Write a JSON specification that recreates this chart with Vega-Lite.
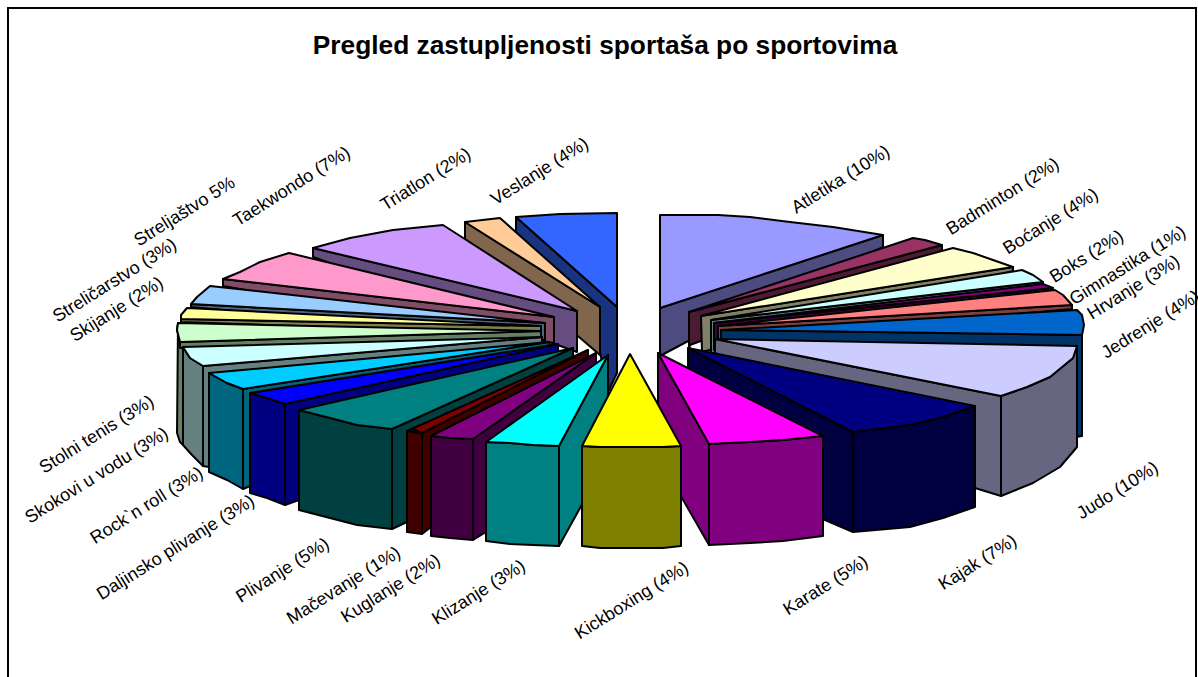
{"$schema":"https://vega.github.io/schema/vega-lite/v6.json","width":1198,"height":677,"autosize":"none","padding":0,"background":"white","view":{"stroke":null},
"title":{"text":"Pregled zastupljenosti sportaša po sportovima","font":"Liberation Sans","fontSize":26.3,"fontWeight":"bold","color":"black","anchor":"middle","dx":6,"dy":63},
"projection":{"type":"identity","scale":1,"translate":[0,0]},
"layer":[
{"data":{"values":[{"type":"Feature","properties":{"part":"frame"},"geometry":{"type":"LineString","coordinates":[[8,677],[8,8],[1196,8],[1196,677]]}}]},
"mark":{"type":"geoshape","filled":false,"stroke":"black","strokeWidth":2},"encoding":{}},
{"data":{"values":[
{"type":"Feature","properties":{"part":"Atletika side"},"geometry":{"type":"Polygon","coordinates":[[[660,308],[883,235],[883,247],[690,340],[660,356],[660,308]]]}},
{"type":"Feature","properties":{"part":"Atletika top"},"geometry":{"type":"Polygon","coordinates":[[[660,308],[660,215],[718,215],[750,217],[790,222],[833,227],[883,235],[660,308]]]}},
{"type":"Feature","properties":{"part":"Badminton side"},"geometry":{"type":"Polygon","coordinates":[[[689,312],[942,245],[942,251],[690,345],[689,350],[689,312]]]}},
{"type":"Feature","properties":{"part":"Badminton top"},"geometry":{"type":"Polygon","coordinates":[[[689,312],[913,238],[925,240],[942,245],[689,312]]]}},
{"type":"Feature","properties":{"part":"Boćanje side"},"geometry":{"type":"Polygon","coordinates":[[[701,316],[1013,267],[1013,271],[702,352],[701,316]]]}},
{"type":"Feature","properties":{"part":"Boćanje top"},"geometry":{"type":"Polygon","coordinates":[[[701,316],[953,248],[973,253],[993,260],[1013,267],[701,316]]]}},
{"type":"Feature","properties":{"part":"Boks side"},"geometry":{"type":"Polygon","coordinates":[[[711,320],[1043,282],[1043,285],[711,355],[711,320]]]}},
{"type":"Feature","properties":{"part":"Boks top"},"geometry":{"type":"Polygon","coordinates":[[[711,320],[1022,270],[1033,275],[1043,282],[711,320]]]}},
{"type":"Feature","properties":{"part":"Gimnastika side"},"geometry":{"type":"Polygon","coordinates":[[[714,323],[1053,288],[1053,290],[714,350],[714,323]]]}},
{"type":"Feature","properties":{"part":"Gimnastika top"},"geometry":{"type":"Polygon","coordinates":[[[714,323],[1043,284],[1053,288],[714,323]]]}},
{"type":"Feature","properties":{"part":"Hrvanje side"},"geometry":{"type":"Polygon","coordinates":[[[718,326],[1072,305],[1072,309],[718,340],[718,326]]]}},
{"type":"Feature","properties":{"part":"Hrvanje top"},"geometry":{"type":"Polygon","coordinates":[[[718,326],[1055,290],[1063,295],[1072,305],[718,326]]]}},
{"type":"Feature","properties":{"part":"Jedrenje side"},"geometry":{"type":"Polygon","coordinates":[[[721,330],[1082,335],[1082,436],[1076,437],[721,350],[721,330]]]}},
{"type":"Feature","properties":{"part":"Jedrenje top"},"geometry":{"type":"Polygon","coordinates":[[[721,330],[1077,310],[1082,315],[1084,325],[1082,335],[721,330]]]}},
{"type":"Feature","properties":{"part":"Veslanje side"},"geometry":{"type":"Polygon","coordinates":[[[617,307],[516,217],[516,232],[600,352],[608,392],[617,373],[617,307]]]}},
{"type":"Feature","properties":{"part":"Veslanje top"},"geometry":{"type":"Polygon","coordinates":[[[617,307],[617,213],[560,214],[516,217],[617,307]]]}},
{"type":"Feature","properties":{"part":"Triatlon side"},"geometry":{"type":"Polygon","coordinates":[[[600,307],[465,222],[465,239],[600,355],[600,307]]]}},
{"type":"Feature","properties":{"part":"Triatlon top"},"geometry":{"type":"Polygon","coordinates":[[[600,307],[500,218],[465,222],[600,307]]]}},
{"type":"Feature","properties":{"part":"Taekwondo side"},"geometry":{"type":"Polygon","coordinates":[[[577,311],[313,248],[313,257],[577,352],[577,311]]]}},
{"type":"Feature","properties":{"part":"Taekwondo top"},"geometry":{"type":"Polygon","coordinates":[[[577,311],[443,225],[393,230],[350,238],[313,248],[577,311]]]}},
{"type":"Feature","properties":{"part":"Streljaštvo side"},"geometry":{"type":"Polygon","coordinates":[[[554,317],[223,279],[223,286],[554,343],[554,317]]]}},
{"type":"Feature","properties":{"part":"Streljaštvo top"},"geometry":{"type":"Polygon","coordinates":[[[554,317],[289,253],[260,262],[240,272],[223,279],[554,317]]]}},
{"type":"Feature","properties":{"part":"Streličarstvo side"},"geometry":{"type":"Polygon","coordinates":[[[545,323],[191,304],[191,307],[545,340],[545,323]]]}},
{"type":"Feature","properties":{"part":"Streličarstvo top"},"geometry":{"type":"Polygon","coordinates":[[[545,323],[210,286],[197,297],[191,304],[545,323]]]}},
{"type":"Feature","properties":{"part":"Skijanje side"},"geometry":{"type":"Polygon","coordinates":[[[541,326],[181,319],[181,322],[541,334],[541,326]]]}},
{"type":"Feature","properties":{"part":"Skijanje top"},"geometry":{"type":"Polygon","coordinates":[[[541,326],[187,308],[181,315],[181,319],[541,326]]]}},
{"type":"Feature","properties":{"part":"Stolni tenis side"},"geometry":{"type":"Polygon","coordinates":[[[178,323],[177,330],[180,342],[183,345],[183,445],[180,442],[177,433],[178,323]]]}},
{"type":"Feature","properties":{"part":"Stolni tenis side"},"geometry":{"type":"Polygon","coordinates":[[[541,331],[180,342],[180,348],[541,345],[541,331]]]}},
{"type":"Feature","properties":{"part":"Stolni tenis top"},"geometry":{"type":"Polygon","coordinates":[[[541,331],[178,323],[177,330],[180,342],[541,331]]]}},
{"type":"Feature","properties":{"part":"Skokovi side"},"geometry":{"type":"Polygon","coordinates":[[[542,337],[203,366],[203,466],[209,467],[542,350],[542,337]]]}},
{"type":"Feature","properties":{"part":"Skokovi side"},"geometry":{"type":"Polygon","coordinates":[[[183,347],[190,358],[203,366],[203,466],[192,455],[183,445],[183,347]]]}},
{"type":"Feature","properties":{"part":"Skokovi top"},"geometry":{"type":"Polygon","coordinates":[[[542,337],[183,347],[190,358],[203,366],[542,337]]]}},
{"type":"Feature","properties":{"part":"Rock side"},"geometry":{"type":"Polygon","coordinates":[[[549,342],[243,389],[243,489],[250,486],[549,355],[549,342]]]}},
{"type":"Feature","properties":{"part":"Rock side"},"geometry":{"type":"Polygon","coordinates":[[[209,373],[227,383],[243,389],[243,489],[227,480],[209,472],[209,373]]]}},
{"type":"Feature","properties":{"part":"Rock top"},"geometry":{"type":"Polygon","coordinates":[[[549,342],[209,373],[227,383],[243,389],[549,342]]]}},
{"type":"Feature","properties":{"part":"Daljinsko side"},"geometry":{"type":"Polygon","coordinates":[[[558,344],[285,404],[285,505],[299,500],[558,360],[558,344]]]}},
{"type":"Feature","properties":{"part":"Daljinsko side"},"geometry":{"type":"Polygon","coordinates":[[[250,393],[267,398],[285,404],[285,505],[267,498],[250,493],[250,393]]]}},
{"type":"Feature","properties":{"part":"Daljinsko top"},"geometry":{"type":"Polygon","coordinates":[[[558,344],[250,393],[267,398],[285,404],[558,344]]]}},
{"type":"Feature","properties":{"part":"Plivanje side"},"geometry":{"type":"Polygon","coordinates":[[[573,348],[392,429],[392,529],[407,522],[573,395],[573,348]]]}},
{"type":"Feature","properties":{"part":"Plivanje side"},"geometry":{"type":"Polygon","coordinates":[[[299,410],[330,418],[357,425],[392,429],[392,529],[357,525],[330,518],[299,510],[299,410]]]}},
{"type":"Feature","properties":{"part":"Plivanje top"},"geometry":{"type":"Polygon","coordinates":[[[573,348],[299,410],[330,418],[357,425],[392,429],[573,348]]]}},
{"type":"Feature","properties":{"part":"Mačevanje side"},"geometry":{"type":"Polygon","coordinates":[[[588,350],[422,433],[422,534],[431,527],[588,440],[588,350]]]}},
{"type":"Feature","properties":{"part":"Mačevanje side"},"geometry":{"type":"Polygon","coordinates":[[[407,431],[422,433],[422,534],[407,532],[407,431]]]}},
{"type":"Feature","properties":{"part":"Mačevanje top"},"geometry":{"type":"Polygon","coordinates":[[[588,350],[407,431],[413,429],[422,433],[588,350]]]}},
{"type":"Feature","properties":{"part":"Kuglanje side"},"geometry":{"type":"Polygon","coordinates":[[[596,353],[473,439],[473,540],[486,532],[596,455],[596,353]]]}},
{"type":"Feature","properties":{"part":"Kuglanje side"},"geometry":{"type":"Polygon","coordinates":[[[431,436],[450,438],[473,439],[473,540],[450,538],[431,536],[431,436]]]}},
{"type":"Feature","properties":{"part":"Kuglanje top"},"geometry":{"type":"Polygon","coordinates":[[[596,353],[431,436],[450,438],[473,439],[596,353]]]}},
{"type":"Feature","properties":{"part":"Klizanje side"},"geometry":{"type":"Polygon","coordinates":[[[608,355],[559,446],[559,546],[580,508],[608,457],[608,355]]]}},
{"type":"Feature","properties":{"part":"Klizanje side"},"geometry":{"type":"Polygon","coordinates":[[[486,442],[510,443],[533,445],[559,446],[559,546],[533,545],[510,544],[486,541],[486,442]]]}},
{"type":"Feature","properties":{"part":"Klizanje top"},"geometry":{"type":"Polygon","coordinates":[[[608,355],[486,442],[510,443],[533,445],[559,446],[608,355]]]}},
{"type":"Feature","properties":{"part":"Judo side"},"geometry":{"type":"Polygon","coordinates":[[[715,339],[1001,396],[1001,496],[975,488],[715,353],[715,339]]]}},
{"type":"Feature","properties":{"part":"Judo side"},"geometry":{"type":"Polygon","coordinates":[[[1077,346],[1073,358],[1050,377],[1027,387],[1001,396],[1001,496],[1033,483],[1060,467],[1077,447],[1077,346]]]}},
{"type":"Feature","properties":{"part":"Judo top"},"geometry":{"type":"Polygon","coordinates":[[[715,339],[1077,346],[1073,358],[1050,377],[1027,387],[1001,396],[715,339]]]}},
{"type":"Feature","properties":{"part":"Kajak side"},"geometry":{"type":"Polygon","coordinates":[[[688,348],[853,432],[853,532],[825,520],[688,445],[688,348]]]}},
{"type":"Feature","properties":{"part":"Kajak side"},"geometry":{"type":"Polygon","coordinates":[[[853,432],[910,425],[943,417],[975,406],[975,507],[943,518],[910,527],[853,532],[853,432]]]}},
{"type":"Feature","properties":{"part":"Kajak top"},"geometry":{"type":"Polygon","coordinates":[[[688,348],[975,406],[943,417],[910,425],[853,432],[688,348]]]}},
{"type":"Feature","properties":{"part":"Karate side"},"geometry":{"type":"Polygon","coordinates":[[[658,353],[709,444],[709,545],[682,498],[658,453],[658,353]]]}},
{"type":"Feature","properties":{"part":"Karate side"},"geometry":{"type":"Polygon","coordinates":[[[709,444],[750,442],[783,440],[823,436],[823,536],[783,541],[750,543],[709,545],[709,444]]]}},
{"type":"Feature","properties":{"part":"Karate top"},"geometry":{"type":"Polygon","coordinates":[[[658,353],[823,436],[783,440],[750,442],[709,444],[658,353]]]}},
{"type":"Feature","properties":{"part":"Kickboxing side"},"geometry":{"type":"Polygon","coordinates":[[[582,446],[600,447],[663,447],[681,446],[681,546],[663,548],[600,548],[582,546],[582,446]]]}},
{"type":"Feature","properties":{"part":"Kickboxing top"},"geometry":{"type":"Polygon","coordinates":[[[630,354],[582,446],[600,447],[663,447],[681,446],[630,354]]]}}
]},
"mark":{"type":"geoshape","stroke":"black","strokeWidth":2,"strokeJoin":"round"},
"encoding":{"fill":{"field":"properties.part","type":"nominal","legend":null,"scale":{
"domain":["Atletika top","Atletika side","Badminton top","Badminton side","Boćanje top","Boćanje side","Boks top","Boks side","Gimnastika top","Gimnastika side","Hrvanje top","Hrvanje side","Jedrenje top","Jedrenje side","Judo top","Judo side","Kajak top","Kajak side","Karate top","Karate side","Kickboxing top","Kickboxing side","Klizanje top","Klizanje side","Kuglanje top","Kuglanje side","Mačevanje top","Mačevanje side","Plivanje top","Plivanje side","Daljinsko top","Daljinsko side","Rock top","Rock side","Skokovi top","Skokovi side","Stolni tenis top","Stolni tenis side","Skijanje top","Skijanje side","Streličarstvo top","Streličarstvo side","Streljaštvo top","Streljaštvo side","Taekwondo top","Taekwondo side","Triatlon top","Triatlon side","Veslanje top","Veslanje side"],
"range":["#9999FF","#4C4C80","#993366","#4D1A33","#FFFFCC","#808066","#CCFFFF","#668080","#800080","#400040","#FF8080","#804040","#0066CC","#003366","#CCCCFF","#666680","#000080","#000040","#FF00FF","#800080","#FFFF00","#808000","#00FFFF","#008080","#800080","#400040","#800000","#400000","#008080","#004040","#0000FF","#000080","#00CCFF","#006680","#CCFFFF","#668080","#CCFFCC","#668066","#FFFF99","#80804D","#99CCFF","#4D6680","#FF99CC","#804D66","#CC99FF","#664D80","#FFCC99","#80664D","#3366FF","#1A3380"]}}}},
{"data":{"values":[
{"label":"Atletika (10%)","x":841,"y":180},{"label":"Badminton (2%)","x":1003,"y":197},{"label":"Boćanje (4%)","x":1051,"y":222},{"label":"Boks (2%)","x":1087,"y":257},{"label":"Gimnastika (1%)","x":1128,"y":266},{"label":"Hrvanje (3%)","x":1134,"y":288},{"label":"Jedrenje (4%)","x":1151,"y":325},{"label":"Judo (10%)","x":1118,"y":491},{"label":"Kajak (7%)","x":978,"y":563},{"label":"Karate (5%)","x":826,"y":586},{"label":"Kickboxing (4%)","x":632,"y":601},{"label":"Klizanje (3%)","x":479,"y":593},{"label":"Kuglanje (2%)","x":391,"y":589},{"label":"Mačevanje (1%)","x":344,"y":586},{"label":"Plivanje (5%)","x":283,"y":571},{"label":"Daljinsko plivanje (3%)","x":176,"y":548},{"label":"Rock`n roll (3%)","x":147,"y":506},{"label":"Skokovi u vodu (3%)","x":97,"y":476},{"label":"Stolni tenis (3%)","x":97,"y":435},{"label":"Skijanje (2%)","x":117,"y":310},{"label":"Streličarstvo (3%)","x":115,"y":281},{"label":"Streljaštvo 5%","x":185,"y":212},{"label":"Taekwondo (7%)","x":292,"y":187},{"label":"Triatlon (2%)","x":426,"y":180},{"label":"Veslanje (4%)","x":540,"y":172}
]},
"mark":{"type":"text","font":"Liberation Sans","fontSize":18,"color":"black","angle":328,"align":"center","baseline":"middle"},
"encoding":{"longitude":{"field":"x","type":"quantitative"},"latitude":{"field":"y","type":"quantitative"},"text":{"field":"label","type":"nominal"}}}
]}
